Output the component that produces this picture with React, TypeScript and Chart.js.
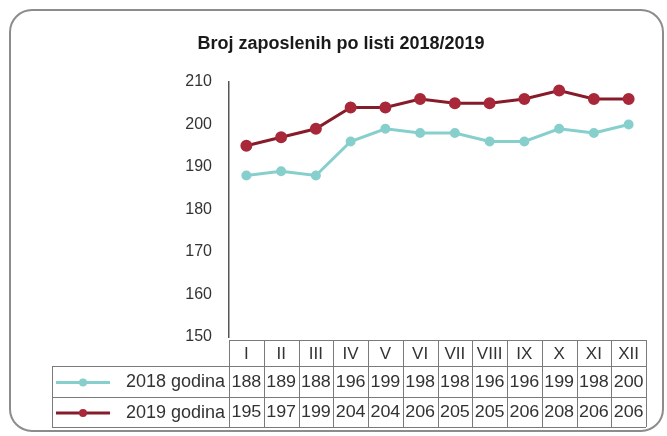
import React, { useEffect, useRef } from "react";
import { Chart, registerables } from "chart.js";

Chart.register(...registerables);

const categories = ["I", "II", "III", "IV", "V", "VI", "VII", "VIII", "IX", "X", "XI", "XII"];
const seriesNames = ["2018 godina", "2019 godina"];
const values2018 = [188, 189, 188, 196, 199, 198, 198, 196, 196, 199, 198, 200];
const values2019 = [195, 197, 199, 204, 204, 206, 205, 205, 206, 208, 206, 206];
const titleText = "Broj zaposlenih po listi 2018/2019";
const yMin = 150;
const yMax = 210;
const yStep = 10;

const COLOR_2018 = "#86cfcc";
const COLOR_2019 = "#861c2a";
const MARKER_2019 = "#a8283a";
const TEXT = "#333333";
const FONT = "'Liberation Sans', Arial, sans-serif";

export default function App() {
  const ref = useRef<HTMLCanvasElement | null>(null);

  useEffect(() => {
    const canvas = ref.current;
    if (!canvas) return;

    const tablePlugin = {
      id: "dataTable",
      afterDraw(chart: any) {
        const ctx = chart.ctx as CanvasRenderingContext2D;
        const area = chart.chartArea;
        const xs = chart.scales.x;
        const n = categories.length;
        const colW = (area.right - area.left) / n;
        const left = area.left;
        const right = area.right;
        const legendLeft = 52;
        const yHeadTop = area.bottom + 3;
        const yRow1 = yHeadTop + 26;
        const yRow2 = yRow1 + 31;
        const yBottom = yRow2 + 30;

        ctx.save();
        // outer rounded frame
        ctx.strokeStyle = "#8c8c8c";
        ctx.lineWidth = 2;
        ctx.beginPath();
        (ctx as any).roundRect(10, 10, 653, 421, 22);
        ctx.stroke();

        // title
        ctx.fillStyle = "#1a1a1a";
        ctx.font = `bold 18px ${FONT}`;
        ctx.textAlign = "center";
        ctx.textBaseline = "middle";
        ctx.fillText(titleText, 341, 44);

        // table grid
        ctx.strokeStyle = "#7a7a7a";
        ctx.lineWidth = 1;
        ctx.beginPath();
        ctx.moveTo(left, yHeadTop + 0.5);
        ctx.lineTo(right, yHeadTop + 0.5);
        [yRow1, yRow2, yBottom].forEach((y) => {
          ctx.moveTo(legendLeft, y + 0.5);
          ctx.lineTo(right, y + 0.5);
        });
        for (let i = 0; i <= n; i++) {
          const x = Math.round(left + i * colW) + 0.5;
          ctx.moveTo(x, yHeadTop);
          ctx.lineTo(x, yBottom);
        }
        ctx.moveTo(legendLeft + 0.5, yRow1);
        ctx.lineTo(legendLeft + 0.5, yBottom);
        ctx.stroke();

        // category labels
        ctx.fillStyle = TEXT;
        ctx.font = `17px ${FONT}`;
        ctx.textAlign = "center";
        ctx.textBaseline = "middle";
        categories.forEach((c, i) => {
          ctx.fillText(c, xs.getPixelForValue(i), (yHeadTop + yRow1) / 2 + 1);
        });

        // rows
        const rows = [
          { name: seriesNames[0], vals: values2018, color: COLOR_2018, marker: COLOR_2018, top: yRow1, bot: yRow2 },
          { name: seriesNames[1], vals: values2019, color: COLOR_2019, marker: MARKER_2019, top: yRow2, bot: yBottom },
        ];
        rows.forEach((r) => {
          const cy = (r.top + r.bot) / 2 + 1;
          // legend key
          ctx.strokeStyle = r.color;
          ctx.lineWidth = 3;
          ctx.beginPath();
          ctx.moveTo(56, cy);
          ctx.lineTo(110, cy);
          ctx.stroke();
          ctx.fillStyle = r.marker;
          ctx.beginPath();
          ctx.arc(83, cy, 4, 0, Math.PI * 2);
          ctx.fill();
          // name
          ctx.fillStyle = TEXT;
          ctx.font = `18px ${FONT}`;
          ctx.textAlign = "right";
          ctx.fillText(r.name, left - 4, cy);
          // values
          ctx.textAlign = "center";
          ctx.font = `16px ${FONT}`;
          r.vals.forEach((v, i) => {
            const x = xs.getPixelForValue(i);
            ctx.save();
            ctx.translate(x, cy);
            ctx.scale(1.12, 1);
            ctx.fillText(String(v), 0, 0);
            ctx.restore();
          });
        });
        ctx.restore();
      },
    };

    const chart = new Chart(canvas, {
      type: "line",
      data: {
        labels: categories,
        datasets: [
          {
            label: seriesNames[0],
            data: values2018,
            borderColor: COLOR_2018,
            backgroundColor: COLOR_2018,
            pointBackgroundColor: COLOR_2018,
            pointBorderColor: COLOR_2018,
            borderWidth: 3,
            pointRadius: 3.5,
            tension: 0,
          },
          {
            label: seriesNames[1],
            data: values2019,
            borderColor: COLOR_2019,
            backgroundColor: MARKER_2019,
            pointBackgroundColor: MARKER_2019,
            pointBorderColor: MARKER_2019,
            borderWidth: 3,
            pointRadius: 4.5,
            tension: 0,
          },
        ],
      },
      options: {
        animation: false,
        responsive: false,
        maintainAspectRatio: false,
        layout: { padding: { left: 149, right: 21, top: 82, bottom: 99 } },
        plugins: {
          legend: { display: false },
          title: { display: false },
          tooltip: { enabled: false },
        },
        scales: {
          x: {
            type: "category",
            offset: true,
            display: false,
          },
          y: {
            min: yMin,
            max: yMax,
            ticks: {
              stepSize: yStep,
              color: TEXT,
              font: { family: FONT, size: 16 },
              padding: 9,
            },
            grid: { display: false },
            border: { display: true, color: "#555555", width: 1.5 },
            afterFit: (scale: any) => {
              scale.width = 80;
            },
          },
        },
      },
      plugins: [tablePlugin],
    });

    return () => chart.destroy();
  }, []);

  return (
    <div style={{ position: "fixed", left: 0, top: 0, width: 667, height: 436, background: "#ffffff" }}>
      <canvas ref={ref} width={667} height={436} style={{ display: "block" }} />
    </div>
  );
}
